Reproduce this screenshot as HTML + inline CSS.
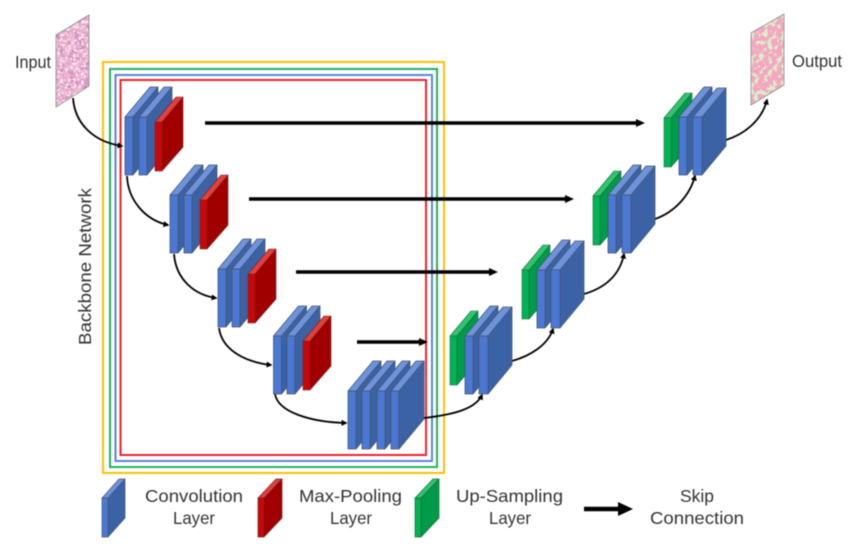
<!DOCTYPE html>
<html><head><meta charset="utf-8">
<style>html,body{margin:0;padding:0;background:#fff}svg{display:block;filter:blur(.45px)}
text{font-family:"Liberation Sans",sans-serif;font-size:17.5px;fill:#333}</style></head>
<body>
<svg width="850" height="549" viewBox="0 0 850 549" xmlns="http://www.w3.org/2000/svg">
<defs>
<g id="b" stroke="#46566e" stroke-width=".8" stroke-linejoin="round">
<polygon points="8,0 33,-30 33,28 8,58" fill="#3c62a6"/>
<polygon points="0,0 25,-30 33,-30 8,0" fill="#6c93dc"/>
<rect x="0" y="0" width="8" height="58" fill="#4a78d4"/></g>
<g id="B" stroke="#46566e" stroke-width=".8" stroke-linejoin="round">
<polygon points="9,0 33,-29 33,29 9,58" fill="#3c62a6"/>
<polygon points="0,0 24,-29 33,-29 9,0" fill="#6c93dc"/>
<rect x="0" y="0" width="9" height="58" fill="#4a78d4"/></g>
<g id="r" stroke="#7a2020" stroke-width=".6" stroke-linejoin="round">
<polygon points="7,0 28,-25 28,25 7,49" fill="#a00000"/>
<polygon points="0,0 21,-25 28,-25 7,0" fill="#e2403c"/>
<rect x="0" y="0" width="7" height="49" fill="#c80808"/></g>
<g id="g" stroke="#1c6a40" stroke-width=".6" stroke-linejoin="round">
<polygon points="7,0 28,-25 28,25 7,49" fill="#009a48"/>
<polygon points="0,0 21,-25 28,-25 7,0" fill="#30c46e"/>
<rect x="0" y="0" width="7" height="49" fill="#00b455"/></g>
<g id="lb" stroke="#46566e" stroke-width=".7" stroke-linejoin="round">
<polygon points="6,0 23,-19 23,20 6,39" fill="#3c62a6"/>
<polygon points="0,0 17,-19 23,-19 6,0" fill="#6c93dc"/>
<rect width="6" height="39" fill="#4a78d4"/></g>
<g id="lr" stroke="#7a2020" stroke-width=".7" stroke-linejoin="round">
<polygon points="6,0 24,-19 24,20 6,39" fill="#a00000"/>
<polygon points="0,0 18,-19 24,-19 6,0" fill="#e2403c"/>
<rect width="6" height="39" fill="#c80808"/></g>
<g id="lg" stroke="#1c6a40" stroke-width=".7" stroke-linejoin="round">
<polygon points="6,0 24,-19 24,20 6,39" fill="#009a48"/>
<polygon points="0,0 18,-19 24,-19 6,0" fill="#30c46e"/>
<rect width="6" height="39" fill="#00b455"/></g>
<marker id="ah" markerWidth="6" markerHeight="6" refX="4.5" refY="3" orient="auto" markerUnits="userSpaceOnUse"><path d="M0,0L6,3L0,6z" fill="#000"/></marker>
<filter id="tex1" x="0" y="0" width="100%" height="100%" color-interpolation-filters="sRGB">
<feTurbulence type="fractalNoise" baseFrequency=".2" numOctaves="2" seed="4"/>
<feColorMatrix values="0 0 0 0 .78  0 0 0 0 .52  0 0 0 0 .72  3 0 0 0 -1.300"/>
</filter>
<filter id="tex1b" x="0" y="0" width="100%" height="100%" color-interpolation-filters="sRGB">
<feTurbulence type="fractalNoise" baseFrequency=".38" numOctaves="2" seed="11"/>
<feColorMatrix values="0 0 0 0 1  0 0 0 0 .96  0 0 0 0 .98  0 7 0 0 -3.700"/>
</filter>
<filter id="tex2" x="0" y="0" width="100%" height="100%" color-interpolation-filters="sRGB">
<feTurbulence type="fractalNoise" baseFrequency=".22" numOctaves="2" seed="9"/>
<feColorMatrix values="0 0 0 0 .85  0 0 0 0 .95  0 0 0 0 .78  8 0 0 0 -4"/>
</filter>
<clipPath id="cin"><polygon points="56,35 89,15 89,86 56,107"/></clipPath>
<clipPath id="cout"><polygon points="751,33 784,14 784,85 751,105"/></clipPath>
</defs>

<!-- input / output -->
<polygon points="56,35 89,15 89,86 56,107" fill="#eeb4d0"/>
<g clip-path="url(#cin)"><rect x="50" y="10" width="45" height="100" filter="url(#tex1)"/><rect x="50" y="10" width="45" height="100" filter="url(#tex1b)"/></g>
<polygon points="56,35 89,15 89,86 56,107" fill="none" stroke="#8a8a8a" stroke-width=".8"/>
<polygon points="751,33 784,14 784,85 751,105" fill="#f4a6c2"/>
<g clip-path="url(#cout)"><rect x="745" y="10" width="45" height="100" filter="url(#tex2)"/></g>
<polygon points="751,33 784,14 784,85 751,105" fill="none" stroke="#8a8a8a" stroke-width=".8"/>

<!-- frames -->
<g fill="none" stroke-width="2">
<rect x="103" y="62" width="341" height="411" stroke="#ffc000"/>
<rect x="110" y="69" width="327" height="398" stroke="#1fb35f"/>
<rect x="115.500" y="75" width="316.500" height="386" stroke="#5b86d6"/>
<rect x="120.500" y="80" width="305.500" height="375" stroke="#f2222a"/>
</g>

<!-- curves -->
<g fill="none" stroke="#000" stroke-width="1.8" marker-end="url(#ah)">
<path d="M73,98C75,125 95,142 122,146"/>
<path d="M127,176C128,200 145,220 168,225"/>
<path d="M174,254C176,280 195,295 216,298"/>
<path d="M219,328C222,350 245,362 271,365"/>
<path d="M275,394C278,412 310,422 346,423"/>
<path d="M424,418C450,415 475,410 482,395"/>
<path d="M512,361C530,356 548,345 553,329"/>
<path d="M584,294C605,288 620,275 624,254"/>
<path d="M655,219C675,212 690,195 695,176"/>
<path d="M726,140C745,134 762,120 767,100"/>
</g>

<!-- skip arrows -->
<g stroke="#000" stroke-width="3.400" fill="#000">
<line x1="205" y1="123" x2="637" y2="123"/><polygon points="636,119 645,123 636,127" stroke="none"/>
<line x1="249" y1="199" x2="566" y2="199"/><polygon points="565,195 574,199 565,203" stroke="none"/>
<line x1="296" y1="272" x2="490" y2="272"/><polygon points="489,268 498,272 489,276" stroke="none"/>
<line x1="357" y1="342" x2="420" y2="342"/><polygon points="419,338 428,342 419,346" stroke="none"/>
</g>

<!-- encoder -->
<use href="#b" x="125" y="117"/><use href="#b" x="139" y="117"/><use href="#r" x="155" y="122"/>
<use href="#b" x="170" y="195"/><use href="#b" x="184" y="195"/><use href="#r" x="200" y="200"/>
<use href="#b" x="218" y="269"/><use href="#b" x="232" y="269"/><use href="#r" x="248" y="274"/>
<use href="#b" x="273.500" y="336"/><use href="#b" x="287" y="336"/><use href="#r" x="303" y="341"/>
<use href="#b" x="348" y="391"/><use href="#b" x="362" y="391"/><use href="#b" x="377" y="391"/><use href="#b" x="391" y="391"/>

<!-- decoder -->
<use href="#g" x="450" y="336"/><use href="#b" x="465" y="336"/><use href="#B" x="479" y="336"/>
<use href="#g" x="522" y="270"/><use href="#b" x="537" y="270"/><use href="#B" x="551" y="270"/>
<use href="#g" x="593" y="196"/><use href="#b" x="608" y="195"/><use href="#B" x="622" y="195"/>
<use href="#g" x="664" y="118"/><use href="#b" x="679" y="117"/><use href="#B" x="693" y="117"/>

<!-- labels -->
<text x="15" y="68" textLength="36" lengthAdjust="spacingAndGlyphs">Input</text>
<text x="792" y="67" textLength="50" lengthAdjust="spacingAndGlyphs">Output</text>
<text transform="translate(91,345) rotate(-90)" textLength="157" lengthAdjust="spacingAndGlyphs">Backbone Network</text>

<!-- legend -->
<use href="#lb" x="102" y="498"/>
<use href="#lr" x="258" y="498"/>
<use href="#lg" x="415" y="498"/>
<text x="145" y="502" textLength="98" lengthAdjust="spacingAndGlyphs">Convolution</text>
<text x="173" y="524" textLength="42" lengthAdjust="spacingAndGlyphs">Layer</text>
<text x="299" y="502" textLength="103" lengthAdjust="spacingAndGlyphs">Max-Pooling</text>
<text x="330" y="524" textLength="42" lengthAdjust="spacingAndGlyphs">Layer</text>
<text x="456" y="502" textLength="107" lengthAdjust="spacingAndGlyphs">Up-Sampling</text>
<text x="489" y="524" textLength="42" lengthAdjust="spacingAndGlyphs">Layer</text>
<text x="680" y="502" textLength="34" lengthAdjust="spacingAndGlyphs">Skip</text>
<text x="650" y="524" textLength="94" lengthAdjust="spacingAndGlyphs">Connection</text>
<line x1="584" y1="509" x2="620" y2="509" stroke="#000" stroke-width="4.500"/>
<polygon points="618,502 633,509 618,516" fill="#000"/>
</svg>
</body></html>
